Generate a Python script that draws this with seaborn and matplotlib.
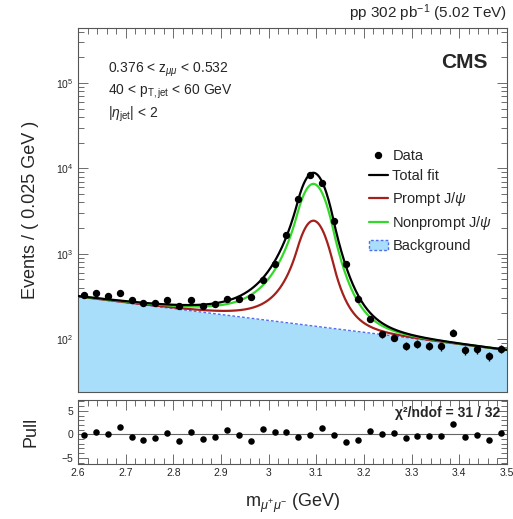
import numpy as np
import pandas as pd
import matplotlib
matplotlib.use("Agg")
import matplotlib.pyplot as plt
import seaborn as sns
from matplotlib.lines import Line2D
from matplotlib.patches import Patch
from matplotlib.ticker import MultipleLocator, LogLocator, NullFormatter

# dimuon mass bin centres (0.025 GeV bins) and events per bin
mass = np.round(np.arange(2.6125, 3.5, 0.025), 4)
events = [332, 348, 318, 351, 285, 265, 267, 285, 244, 285, 246, 260,
          298, 298, 312, 490, 769, 1660, 4380, 8280, 6710, 2430, 769, 298,
          173, 114, 104, 84, 88, 84, 82, 119, 74, 76, 63, 77]
pulls = [-0.2, 0.5, 0.0, 1.5, -0.6, -1.1, -0.8, 0.3, -1.4, 0.4, -0.9, -0.5,
         1.0, -0.2, -1.4, 1.2, 0.4, 0.5, -0.6, -0.2, 1.4, -0.2, -1.6, -1.3,
         0.8, 0.0, 0.2, -0.7, -0.4, -0.4, -0.4, 2.2, -0.6, -0.2, -1.3, 0.3]

# fit model parameters
bkg_at_26 = 314.0      # background at 2.6 GeV
bkg_slope = 1.6        # exponential slope (1/GeV)
jpsi_mean = 3.094
jpsi_sigma = 0.026
alpha_lo, n_lo = 1.3, 3.0
alpha_hi, n_hi = 1.6, 5.0
prompt_peak = 2300.0
nonprompt_peak = 6450.0


def cb_shape(m):
    t = (m - jpsi_mean) / jpsi_sigma
    out = np.exp(-0.5 * t ** 2)
    a_l = (n_lo / alpha_lo) ** n_lo * np.exp(-0.5 * alpha_lo ** 2)
    b_l = n_lo / alpha_lo - alpha_lo
    a_h = (n_hi / alpha_hi) ** n_hi * np.exp(-0.5 * alpha_hi ** 2)
    b_h = n_hi / alpha_hi - alpha_hi
    lo = t < -alpha_lo
    hi = t > alpha_hi
    out[lo] = a_l * (b_l - t[lo]) ** (-n_lo)
    out[hi] = a_h * (b_h + t[hi]) ** (-n_hi)
    return out


mm = np.linspace(2.6, 3.5, 600)
bkg = bkg_at_26 * np.exp(-bkg_slope * (mm - 2.6))
shape = cb_shape(mm)
curves = pd.DataFrame({
    "m": mm,
    "bkg": bkg,
    "prompt": bkg + prompt_peak * shape,
    "nonprompt": bkg + nonprompt_peak * shape,
    "total": bkg + (prompt_peak + nonprompt_peak) * shape,
})
df = pd.DataFrame({"m": mass, "n": events, "pull": pulls})

sns.set_style("ticks")
plt.rcParams["font.family"] = ["Liberation Sans", "DejaVu Sans"]
plt.rcParams["mathtext.fontset"] = "custom"
plt.rcParams["mathtext.rm"] = "Liberation Sans"
plt.rcParams["mathtext.it"] = "Liberation Sans:italic"
plt.rcParams["mathtext.bf"] = "Liberation Sans:bold"

fig = plt.figure(figsize=(5.13, 5.19), dpi=100)
ax = fig.add_axes([0.152, 0.2447, 0.836, 0.701])
axp = fig.add_axes([0.152, 0.106, 0.836, 0.1233], sharex=ax)

fill_col = "#a9defa"
ymin = 24
ax.fill_between(curves["m"], ymin, curves["bkg"], color=fill_col, lw=0, zorder=1)
sns.lineplot(data=curves, x="m", y="bkg", ax=ax, color="#4f6ef0", lw=1.0,
             linestyle=(0, (2, 1.5)), zorder=2)
sns.lineplot(data=curves, x="m", y="prompt", ax=ax, color="#a3201c", lw=1.6, zorder=3)
sns.lineplot(data=curves, x="m", y="nonprompt", ax=ax, color="#33d92a", lw=1.6, zorder=4)
sns.lineplot(data=curves, x="m", y="total", ax=ax, color="black", lw=1.6, zorder=5)
ax.errorbar(df["m"], df["n"], yerr=np.sqrt(df["n"]), fmt="o", color="black",
            ms=4.3, elinewidth=1.0, capsize=0, zorder=6)

ax.set_yscale("log")
ax.set_xlim(2.6, 3.5)
ax.set_ylim(ymin, 4.4e5)
ax.set_xlabel("")
ax.set_ylabel("Events / ( 0.025 GeV )", fontsize=13, labelpad=12)
ax.yaxis.set_major_locator(LogLocator(base=10, numticks=10))
ax.yaxis.set_minor_locator(LogLocator(base=10, subs=np.arange(2, 10), numticks=10))
ax.yaxis.set_minor_formatter(NullFormatter())
ax.xaxis.set_minor_locator(MultipleLocator(0.02))
ax.tick_params(axis="x", labelbottom=False)

# legend
handles = [
    Line2D([0], [0], marker="o", color="black", ms=4.3, lw=1.0, linestyle="none"),
    Line2D([0], [0], color="black", lw=1.6),
    Line2D([0], [0], color="#a3201c", lw=1.6),
    Line2D([0], [0], color="#33d92a", lw=1.6),
    Patch(facecolor=fill_col, edgecolor="#4f6ef0", linestyle=(0, (2, 1.5)), lw=1.0),
]
labels = ["Data", "Total fit", r"Prompt J/$\psi$", r"Nonprompt J/$\psi$", "Background"]
ax.legend(handles, labels, loc="upper left", bbox_to_anchor=(0.665, 0.685),
          frameon=False, fontsize=10.5, handlelength=1.3, handletextpad=0.3,
          labelspacing=0.45, borderaxespad=0)

ax.text(0.07, 0.885, r"0.376 < z$_{\mu\mu}$ < 0.532", transform=ax.transAxes,
        fontsize=10, va="center")
ax.text(0.07, 0.825, r"40 < p$_{\mathrm{T,jet}}$ < 60 GeV", transform=ax.transAxes,
        fontsize=10, va="center")
ax.text(0.07, 0.762, r"|$\eta_{\mathrm{jet}}$| < 2", transform=ax.transAxes,
        fontsize=10, va="center")
ax.text(0.955, 0.905, "CMS", transform=ax.transAxes, fontsize=15,
        fontweight="bold", ha="right", va="center")
ax.text(1.0, 1.012, r"pp 302 pb$^{-1}$ (5.02 TeV)", transform=ax.transAxes,
        fontsize=11, ha="right", va="bottom")

# pull panel
axp.axhline(0, color="#666666", lw=0.8, zorder=1)
sns.scatterplot(data=df, x="m", y="pull", ax=axp, color="black", s=22,
                edgecolor="black", linewidth=0, zorder=3)
axp.set_ylim(-6.3, 7.3)
axp.set_yticks([-5, 0, 5])
axp.yaxis.set_minor_locator(MultipleLocator(1))
axp.set_ylabel("Pull", fontsize=13, labelpad=16)
axp.set_xlabel(r"m$_{\mu^{+}\mu^{-}}$ (GeV)", fontsize=13, labelpad=10)
axp.set_xticks(np.round(np.arange(2.6, 3.51, 0.1), 1))
axp.set_xticklabels(["2.6", "2.7", "2.8", "2.9", "3", "3.1", "3.2", "3.3", "3.4", "3.5"])
axp.text(0.985, 0.8, "χ²/ndof = 31 / 32", transform=axp.transAxes,
         fontsize=10, fontweight="bold", ha="right", va="center")

for a in (ax, axp):
    for s in a.spines.values():
        s.set_color("#555555")
        s.set_linewidth(0.8)
    a.tick_params(which="both", direction="in", top=True, right=True,
                  color="#555555", width=0.6)
    a.tick_params(which="major", length=7, labelsize=7.5)
    a.tick_params(which="minor", length=4)
axp.tick_params(axis="x", which="major", pad=3)

fig.savefig("out.png", dpi=100)
